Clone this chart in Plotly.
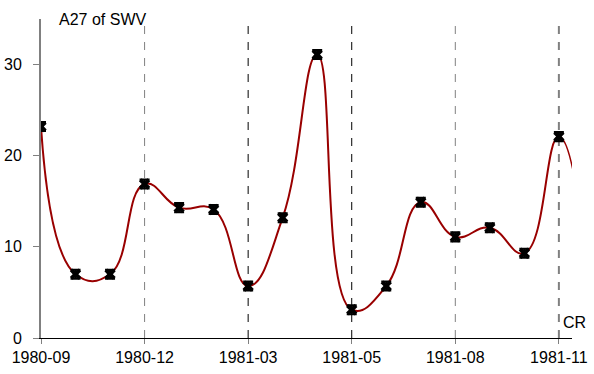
import plotly.graph_objects as go

cr_index = list(range(17))
values = [23.2, 7.0, 7.0, 16.9, 14.3, 14.1, 5.7, 13.2, 31.1, 3.1, 5.7, 14.9, 11.1, 12.1, 9.3, 22.1, 0.0]
errors = [0.5] * 16
tick_pos = [0, 3, 6, 9, 12, 15]
tick_labels = ["1980-09", "1980-12", "1981-03", "1981-05", "1981-08", "1981-11"]
vline_colors = [None, "#808080", "#000000", "#000000", "#808080", "#808080"]
vline_widths = [0, 1, 1, 1, 1, 2]

FONT = "Liberation Sans, Arial, sans-serif"

fig = go.Figure()
fig.add_trace(go.Scatter(
    x=cr_index, y=values, mode="lines",
    line=dict(color="#990000", width=2, shape="spline", smoothing=1.3),
    hoverinfo="skip", showlegend=False, cliponaxis=True,
))
fig.add_trace(go.Scatter(
    x=cr_index[:16], y=values[:16], mode="markers",
    marker=dict(symbol="x", size=10, color="black", line=dict(width=0)),
    error_y=dict(type="data", array=errors, color="black", thickness=2, width=5),
    showlegend=False,
))

shapes = []
for p, c, w in zip(tick_pos, vline_colors, vline_widths):
    if c is None:
        continue
    shapes.append(dict(type="line", xref="x", yref="paper", x0=p, x1=p, y0=0, y1=1,
                       line=dict(color=c, width=w, dash="8px,8px"), layer="below"))

fig.update_layout(
    width=594, height=374,
    margin=dict(l=41, r=22, t=19, b=36, autoexpand=False),
    plot_bgcolor="white", paper_bgcolor="white",
    font=dict(family=FONT, size=16, color="black"),
    shapes=shapes,
    xaxis=dict(range=[0, 15.38], tickmode="array", tickvals=tick_pos, ticktext=tick_labels,
               showgrid=False, zeroline=False, showline=True, linecolor="black", linewidth=1,
               ticks="outside", ticklen=5, tickcolor="#808080", tickfont=dict(size=16),
               automargin=False),
    yaxis=dict(range=[0, 35], tickvals=[0, 10, 20, 30], showgrid=False, zeroline=False,
               showline=True, linecolor="#808080", linewidth=2,
               ticks="outside", ticklen=6, tickcolor="#808080", tickfont=dict(size=16),
               ticklabelstandoff=8, automargin=False),
    annotations=[
        dict(text="A27 of SWV", xref="paper", yref="paper", x=0.03, y=1.0, xanchor="left",
             yanchor="middle", showarrow=False, font=dict(size=16)),
        dict(text="CR", xref="paper", yref="paper", x=1.005, y=0.05, xanchor="center",
             yanchor="middle", showarrow=False, font=dict(size=16)),
    ],
)

fig.write_html("out.html")
